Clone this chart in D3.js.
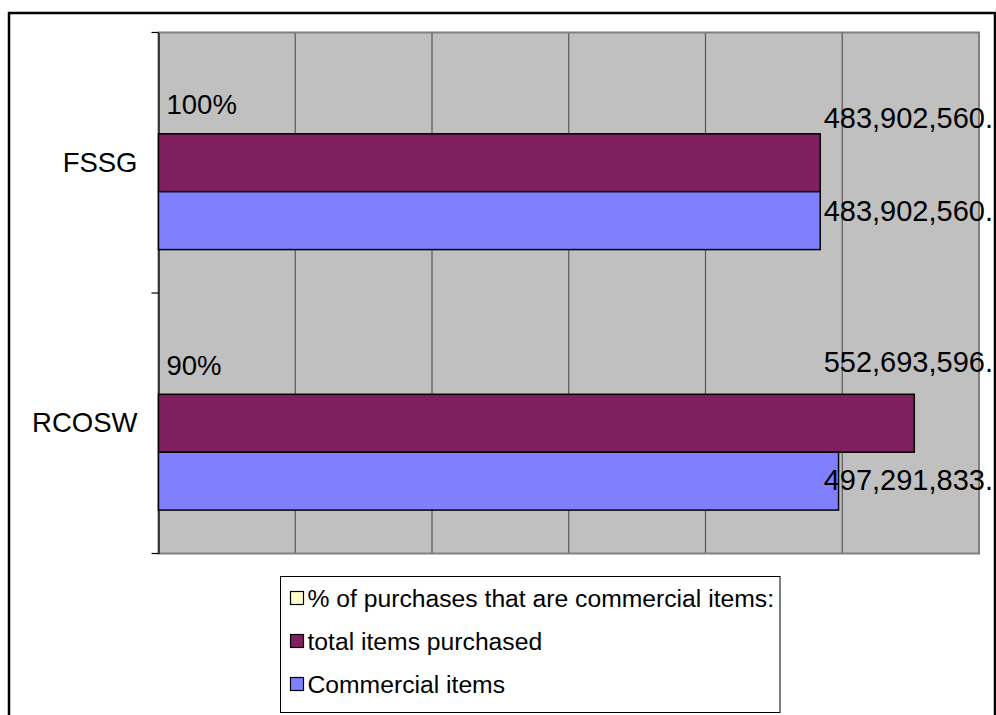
<!DOCTYPE html>
<html>
<head>
<meta charset="utf-8">
<script src="https://cdn.jsdelivr.net/npm/d3@7"></script>
<style>
  html, body { margin: 0; padding: 0; background: #ffffff; }
  svg { display: block; font-family: "Liberation Sans", Arial, sans-serif; }
</style>
</head>
<body>
<svg id="chart" width="996" height="715"></svg>
<script>
// Categories (top to bottom) and the three series plotted for each
const categories = ["FSSG", "RCOSW"];
const seriesNames = [
  "% of purchases that are commercial items:",
  "total items purchased",
  "Commercial items"
];
const pctCommercial = [1.0, 0.9];                 // share of purchases that are commercial
const totalItems = [483902560, 552693596];        // total items purchased
const commercialItems = [483902560, 497291833];   // commercial items
const xTicks = [0, 100e6, 200e6, 300e6, 400e6, 500e6, 600e6];

const seriesColors = ["#FFFFCC", "#7F1F5F", "#8080FF"];
const seriesKeys = ["pct", "total", "commercial"];

// Vertical nudges (px) applied to the value labels so they don't collide
const labelNudge = {
  FSSG:  { pct: 0, total: -45, commercial: -10 },
  RCOSW: { pct: 0, total: -61, commercial: -1 }
};

const rows = categories.map((c, i) => ({
  category: c,
  pct: pctCommercial[i],
  total: totalItems[i],
  commercial: commercialItems[i]
}));

const W = 996, H = 715;
const plot = { left: 158.5, right: 979, top: 32.5, bottom: 553.5 };
const FONT_VALUE = 29;
const FONT_AXIS = 27.5;
const FONT_LEGEND = 24.7;

const svg = d3.select("#chart");

// Outer chart frame
svg.append("rect")
  .attr("x", 9).attr("y", 13)
  .attr("width", 986).attr("height", 720)
  .attr("fill", "#ffffff")
  .attr("stroke", "#000000").attr("stroke-width", 2.5);

const x = d3.scaleLinear().domain([0, 600e6]).range([plot.left, plot.right]);
const y0 = d3.scaleBand().domain(categories).range([plot.top, plot.bottom]).padding(0);
// gap width of 150% of a bar: band = 3 bars + 1.5 bars of gap
const barH = y0.bandwidth() / 4.5;
const y1 = d3.scaleBand().domain(seriesKeys).range([0, barH * 3]).padding(0);
const groupOffset = (y0.bandwidth() - barH * 3) / 2;

// Plot area background
svg.append("rect")
  .attr("x", plot.left).attr("y", plot.top)
  .attr("width", plot.right - plot.left).attr("height", plot.bottom - plot.top)
  .attr("fill", "#C0C0C0");

// Vertical gridlines
svg.append("g")
  .selectAll("line")
  .data(xTicks.slice(1, -1))
  .join("line")
  .attr("x1", d => x(d)).attr("x2", d => x(d))
  .attr("y1", plot.top).attr("y2", plot.bottom)
  .attr("stroke", "#555555").attr("stroke-width", 1.2);

// Plot area border
svg.append("rect")
  .attr("x", plot.left).attr("y", plot.top)
  .attr("width", plot.right - plot.left).attr("height", plot.bottom - plot.top)
  .attr("fill", "none")
  .attr("stroke", "#808080").attr("stroke-width", 2);

// Category axis
const yAxis = d3.axisLeft(y0).tickSize(0).tickPadding(21);
const gy = svg.append("g").attr("transform", `translate(${plot.left},0)`).call(yAxis);
gy.select(".domain").attr("stroke", "#000000").attr("stroke-width", 1.2);
gy.selectAll("text")
  .attr("font-size", FONT_AXIS).attr("fill", "#000000")
  .attr("font-family", "Liberation Sans, Arial, sans-serif");
// tick marks on the category boundaries
const bounds = [plot.top, ...categories.map(c => y0(c) + y0.bandwidth())];
svg.append("g").selectAll("line")
  .data(bounds).join("line")
  .attr("x1", plot.left - 7).attr("x2", plot.left)
  .attr("y1", d => d).attr("y2", d => d)
  .attr("stroke", "#000000").attr("stroke-width", 1.2);

// Bars
const groups = svg.append("g").selectAll("g")
  .data(rows).join("g")
  .attr("transform", d => `translate(0,${y0(d.category) + groupOffset})`);

groups.selectAll("rect")
  .data(d => seriesKeys.map((k, i) => ({ key: k, value: d[k], color: seriesColors[i] })))
  .join("rect")
  .attr("x", x(0))
  .attr("y", d => y1(d.key))
  .attr("width", d => Math.max(0, x(d.value) - x(0)))
  .attr("height", y1.bandwidth())
  .attr("fill", d => d.color)
  .attr("stroke", d => x(d.value) - x(0) < 1 ? "none" : "#000000")
  .attr("stroke-width", 1.5);

// Value labels
const fmtNum = v => d3.format(",")(v) + ".";
const fmtPct = d3.format(".0%");

groups.each(function (d) {
  const g = d3.select(this);
  seriesKeys.forEach(k => {
    const isPct = k === "pct";
    const txt = isPct ? fmtPct(d[k]) : fmtNum(d[k]);
    const t = g.append("text")
      .attr("font-size", isPct ? FONT_AXIS : FONT_VALUE)
      .attr("fill", "#000000")
      .attr("dy", "0.35em")
      .attr("y", y1(k) + y1.bandwidth() / 2 + labelNudge[d.category][k])
      .text(txt);
    const w = t.node().getComputedTextLength();
    // keep labels inside the chart frame
    const xs = Math.min(x(d[k]) + 8, W - 3 - w);
    t.attr("x", xs);
  });
});

// Legend
const legend = { x: 280.5, y: 576.5, w: 499.5, h: 136 };
svg.append("rect")
  .attr("x", legend.x).attr("y", legend.y)
  .attr("width", legend.w).attr("height", legend.h)
  .attr("fill", "#ffffff")
  .attr("stroke", "#000000").attr("stroke-width", 1);

const li = svg.append("g").selectAll("g")
  .data(seriesNames).join("g")
  .attr("transform", (d, i) => `translate(${legend.x + 10},${legend.y + 21.5 + i * 43})`);
li.append("rect")
  .attr("x", 0).attr("y", -6.5)
  .attr("width", 13).attr("height", 13)
  .attr("fill", (d, i) => seriesColors[i])
  .attr("stroke", "#000000").attr("stroke-width", 1.2);
li.append("text")
  .attr("x", 17).attr("dy", "0.35em")
  .attr("font-size", FONT_LEGEND).attr("fill", "#000000")
  .text(d => d);
</script>
</body>
</html>
